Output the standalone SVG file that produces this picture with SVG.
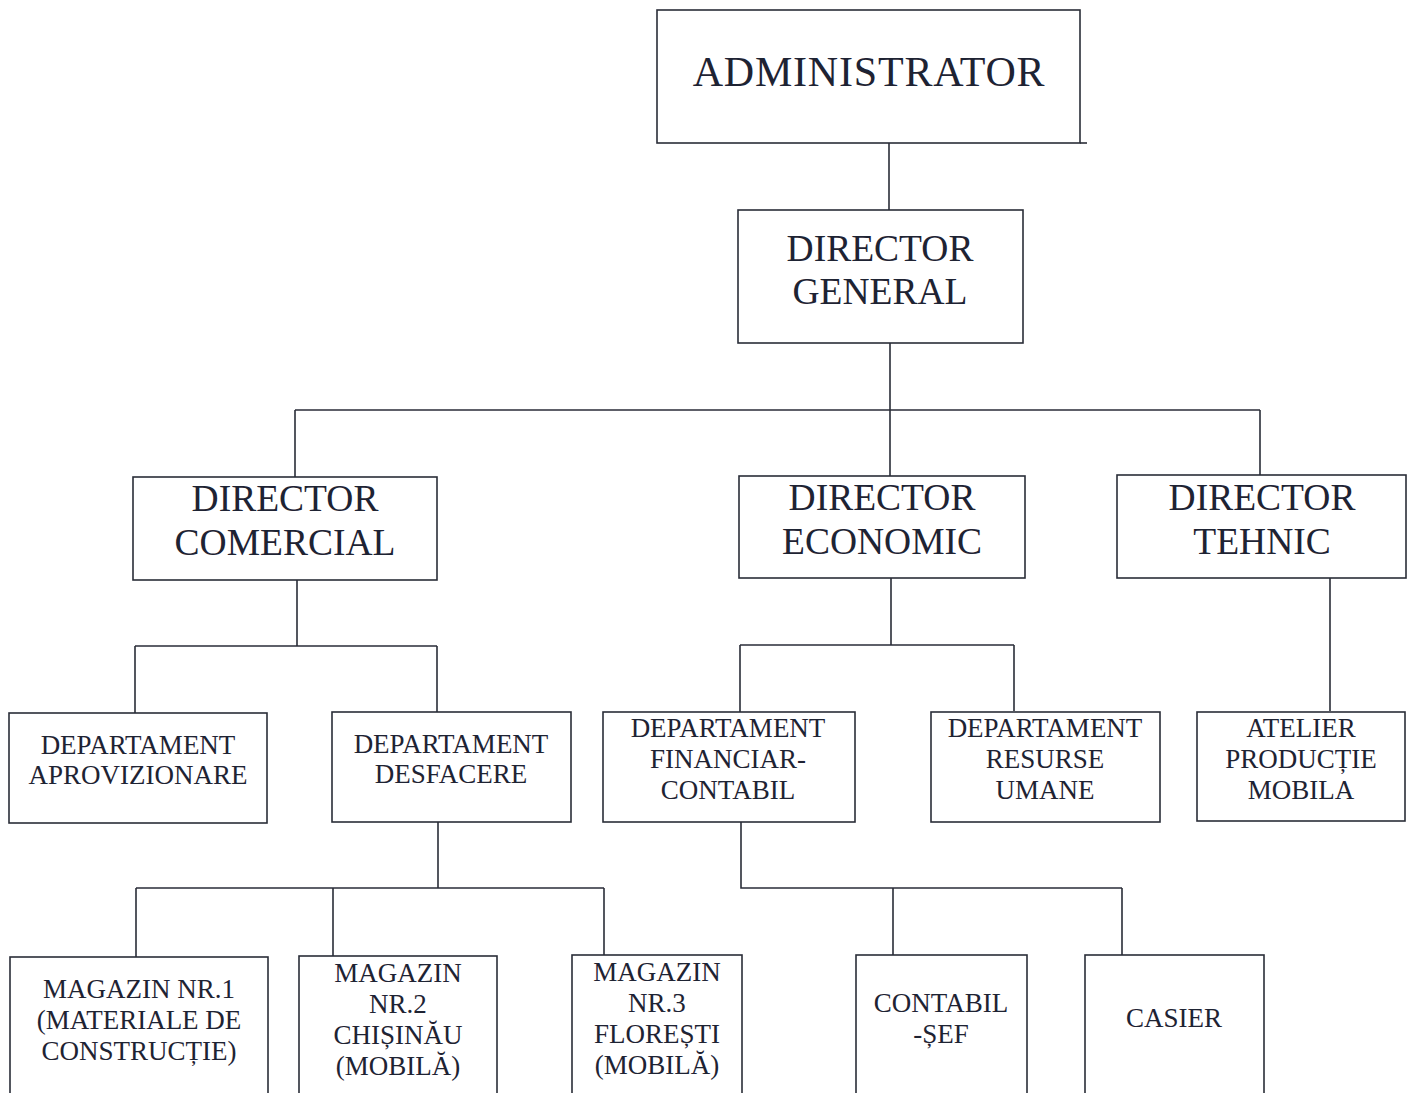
<svg xmlns="http://www.w3.org/2000/svg" width="1413" height="1093" viewBox="0 0 1413 1093">
<style>
.box{fill:#fff;stroke:#2a2d38;stroke-width:1.6}
.ln{fill:none;stroke:#2a2d38;stroke-width:1.6}
text{font-family:"Liberation Serif","Times New Roman",serif;fill:#1e2333;text-anchor:middle}
.xl{font-size:42px;letter-spacing:0.8px}
.l{font-size:37.5px}
.m{font-size:27px}
</style>
<rect width="1413" height="1093" fill="#fff"/>
<g id="connectors">
<path class="ln" d="M889 143V210"/>
<path class="ln" d="M1080 143H1087"/>
<path class="ln" d="M890 343V410M295 410H1260M295 410V477M890 410V476M1260 410V475"/>
<path class="ln" d="M297 580V646M135 646H437M135 646V713M437 646V712"/>
<path class="ln" d="M891 578V645M740 645H1014M740 645V712M1014 645V711"/>
<path class="ln" d="M1330 578V711"/>
<path class="ln" d="M438 822V888M136 888H604M136 888V957M333 888V956M604 888V955"/>
<path class="ln" d="M741 822V888H1122M893 888V955M1122 888V955"/>
</g>
<g id="administrator">
<rect class="box" x="657" y="10" width="423" height="133"/>
<text class="xl" x="869" y="86">ADMINISTRATOR</text>
</g>
<g id="director-general">
<rect class="box" x="738" y="210" width="285" height="133"/>
<text class="l" x="880" y="261">DIRECTOR</text>
<text class="l" x="880" y="304">GENERAL</text>
</g>
<g id="director-comercial">
<rect class="box" x="133" y="477" width="304" height="103"/>
<text class="l" x="285" y="511">DIRECTOR</text>
<text class="l" x="285" y="555">COMERCIAL</text>
</g>
<g id="director-economic">
<rect class="box" x="739" y="476" width="286" height="102"/>
<text class="l" x="882" y="510">DIRECTOR</text>
<text class="l" x="882" y="554">ECONOMIC</text>
</g>
<g id="director-tehnic">
<rect class="box" x="1117" y="475" width="289" height="103"/>
<text class="l" x="1262" y="510">DIRECTOR</text>
<text class="l" x="1262" y="554">TEHNIC</text>
</g>
<g id="dep-aprovizionare">
<rect class="box" x="9" y="713" width="258" height="110"/>
<text class="m" x="138" y="754">DEPARTAMENT</text>
<text class="m" x="138" y="784">APROVIZIONARE</text>
</g>
<g id="dep-desfacere">
<rect class="box" x="332" y="712" width="239" height="110"/>
<text class="m" x="451" y="753">DEPARTAMENT</text>
<text class="m" x="451" y="783">DESFACERE</text>
</g>
<g id="dep-financiar">
<rect class="box" x="603" y="712" width="252" height="110"/>
<text class="m" x="728" y="737">DEPARTAMENT</text>
<text class="m" x="728" y="768">FINANCIAR-</text>
<text class="m" x="728" y="799">CONTABIL</text>
</g>
<g id="dep-resurse">
<rect class="box" x="931" y="712" width="229" height="110"/>
<text class="m" x="1045" y="737">DEPARTAMENT</text>
<text class="m" x="1045" y="768">RESURSE</text>
<text class="m" x="1045" y="799">UMANE</text>
</g>
<g id="atelier">
<rect class="box" x="1197" y="712" width="208" height="109"/>
<text class="m" x="1301" y="737">ATELIER</text>
<text class="m" x="1301" y="768">PRODUCȚIE</text>
<text class="m" x="1301" y="799">MOBILA</text>
</g>
<g id="magazin-1">
<rect class="box" x="10" y="957" width="258" height="150"/>
<text class="m" x="139" y="998">MAGAZIN NR.1</text>
<text class="m" x="139" y="1029">(MATERIALE DE</text>
<text class="m" x="139" y="1060">CONSTRUCȚIE)</text>
</g>
<g id="magazin-2">
<rect class="box" x="299" y="956" width="198" height="150"/>
<text class="m" x="398" y="982">MAGAZIN</text>
<text class="m" x="398" y="1013">NR.2</text>
<text class="m" x="398" y="1044">CHIȘINĂU</text>
<text class="m" x="398" y="1075">(MOBILĂ)</text>
</g>
<g id="magazin-3">
<rect class="box" x="572" y="955" width="170" height="150"/>
<text class="m" x="657" y="981">MAGAZIN</text>
<text class="m" x="657" y="1012">NR.3</text>
<text class="m" x="657" y="1043">FLOREȘTI</text>
<text class="m" x="657" y="1074">(MOBILĂ)</text>
</g>
<g id="contabil-sef">
<rect class="box" x="856" y="955" width="171" height="150"/>
<text class="m" x="941" y="1012">CONTABIL</text>
<text class="m" x="941" y="1043">-ȘEF</text>
</g>
<g id="casier">
<rect class="box" x="1085" y="955" width="179" height="150"/>
<text class="m" x="1174" y="1027">CASIER</text>
</g>
</svg>
